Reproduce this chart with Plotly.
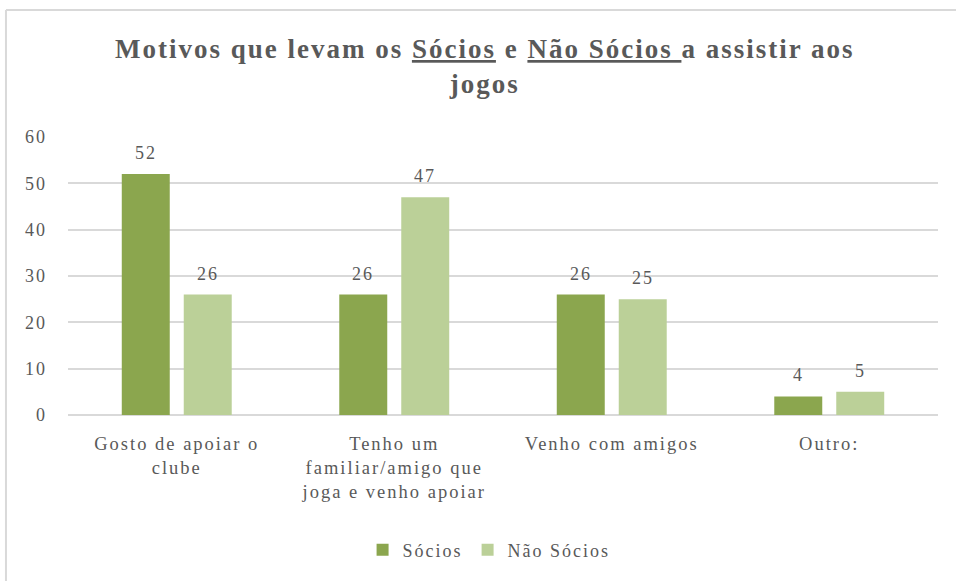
import plotly.graph_objects as go

categorias = [
    "Gosto de apoiar o<br>clube",
    "Tenho um<br>familiar/amigo que<br>joga e venho apoiar",
    "Venho com amigos",
    "Outro:",
]
socios = [52, 26, 26, 4]
nao_socios = [26, 47, 25, 5]
y_ticks = [0, 10, 20, 30, 40, 50, 60]

cor_socios = "#8ba64e"
cor_nao_socios = "#bbd098"
cinza_texto = "#595959"
serif = "Liberation Serif, Times New Roman, serif"


def esp(texto, px=2):
    """Wrap each line of a label in a letter-spaced span."""
    return "<br>".join(
        f"<span style='letter-spacing:{px}px'>{linha}</span>"
        for linha in texto.split("<br>")
    )


fig = go.Figure()
fig.add_trace(go.Bar(x=categorias, y=socios, name=esp("Sócios"),
                     marker=dict(color=cor_socios, line=dict(width=0))))
fig.add_trace(go.Bar(x=categorias, y=nao_socios, name=esp("Não Sócios"),
                     marker=dict(color=cor_nao_socios, line=dict(width=0))))

# value labels above each bar, shifted to the centre of each bar slot
for serie, dx in ((socios, -31), (nao_socios, 31)):
    for cat, v in zip(categorias, serie):
        fig.add_annotation(x=cat, y=v, text=esp(str(v)), showarrow=False,
                           xshift=dx, yshift=9, yanchor="bottom",
                           font=dict(family=serif, size=18, color=cinza_texto))

# light outer frame of the chart
frame = dict(color="#d9d9d9", width=2)
fig.add_shape(type="line", xref="paper", yref="paper",
              x0=-0.0713, x1=-0.0713, y0=1.457, y1=-0.6, line=frame)
fig.add_shape(type="line", xref="paper", yref="paper",
              x0=-0.0713, x1=1.03, y0=1.457, y1=1.457, line=frame)

titulo = esp("<b>Motivos que levam os <u>Sócios</u> e <u>Não Sócios </u>"
             "a assistir aos</b><br><b>jogos</b>")

fig.update_layout(
    width=956, height=581,
    margin=dict(l=68, r=18, t=137, b=166),
    paper_bgcolor="white", plot_bgcolor="white",
    barmode="group", bargap=0.43, bargroupgap=0.226,
    title=dict(
        text=titulo,
        x=0.507, xanchor="center", xref="container",
        y=1 - 58 / 581, yanchor="top", yref="container",
        font=dict(family=serif, size=27, color=cinza_texto),
    ),
    font=dict(family=serif, size=18, color=cinza_texto),
    xaxis=dict(showgrid=False, showline=False, ticks="outside", ticklen=12,
               tickcolor="rgba(0,0,0,0)",
               tickvals=categorias, ticktext=[esp(c) for c in categorias],
               tickfont=dict(family=serif, size=18.5, color=cinza_texto)),
    yaxis=dict(range=[0, 60], tickvals=y_ticks,
               ticktext=[esp(str(v)) for v in y_ticks],
               showgrid=True, gridcolor="#d9d9d9",
               gridwidth=1.5, zeroline=True, zerolinecolor="#d9d9d9",
               zerolinewidth=1.5, showline=False, ticklabelstandoff=20,
               tickfont=dict(family=serif, size=18, color=cinza_texto)),
    legend=dict(orientation="h", x=0.484, xanchor="center", y=-0.486,
                yanchor="middle",
                font=dict(family=serif, size=18, color=cinza_texto)),
    showlegend=True,
)

fig.write_html("out.html")
